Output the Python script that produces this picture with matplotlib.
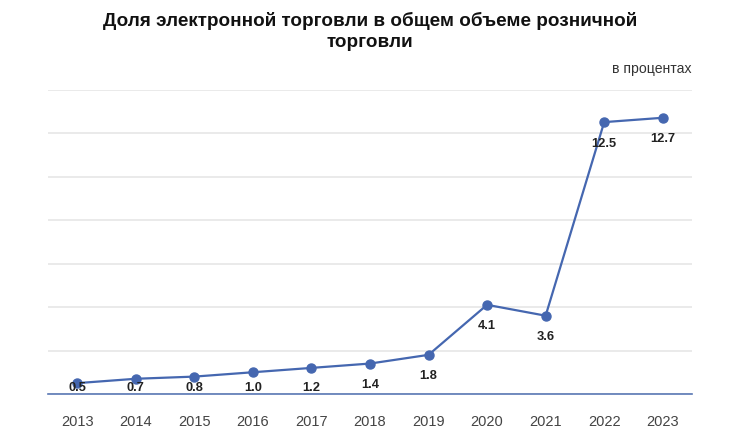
import matplotlib
matplotlib.use("Agg")
import matplotlib.pyplot as plt

years = ["2013", "2014", "2015", "2016", "2017", "2018", "2019", "2020", "2021", "2022", "2023"]
values = [0.5, 0.7, 0.8, 1.0, 1.2, 1.4, 1.8, 4.1, 3.6, 12.5, 12.7]
labels = ["0.5", "0.7", "0.8", "1.0", "1.2", "1.4", "1.8", "4.1", "3.6", "12.5", "12.7"]
yticks = [0, 2, 4, 6, 8, 10, 12, 14]

plt.rcParams['font.family'] = ['Liberation Sans', 'DejaVu Sans']

fig = plt.figure(figsize=(7.5, 4.37), dpi=100)
ax = fig.add_axes([48/750, 1 - 394/437, (692-48)/750, (394-89.5)/437])

color = "#4567b0"
x = list(range(len(years)))
ax.plot(x, values, color=color, linewidth=1.6, marker="o", markersize=6.5, zorder=3, clip_on=False)

for i, (v, lab) in enumerate(zip(values, labels)):
    ax.text(i, max(v - 0.99, 0.29), lab, ha="center", va="center",
            fontsize=9.3, fontweight="bold", color="#222222", zorder=4)

ax.set_xlim(-0.5, len(years) - 0.5)
ax.set_ylim(0, 14)
ax.set_yticks(yticks)
ax.set_yticklabels([])
ax.tick_params(axis="y", length=0)
ax.set_xticks(x)
ax.set_xticklabels(years, fontsize=10.5, color="#444444")
ax.tick_params(axis="x", length=0, pad=15)
ax.grid(axis="y", color="#e6e6e6", linewidth=1.2)
ax.set_axisbelow(True)
for s in ["top", "right", "left"]:
    ax.spines[s].set_visible(False)
ax.spines["bottom"].set_color("#5a78b5")
ax.spines["bottom"].set_linewidth(1.2)
ax.spines["bottom"].set_zorder(2)

fig.text(370/750, 1 - 31.5/437, "Доля электронной торговли в общем объеме розничной\nторговли",
         ha="center", va="center", fontsize=13.6, fontweight="bold", color="#111111",
         linespacing=1.32)
fig.text(692/750, 1 - 68.7/437, "в процентах", ha="right", va="center",
         fontsize=10.1, color="#333333")

fig.savefig("out.png", dpi=100)
